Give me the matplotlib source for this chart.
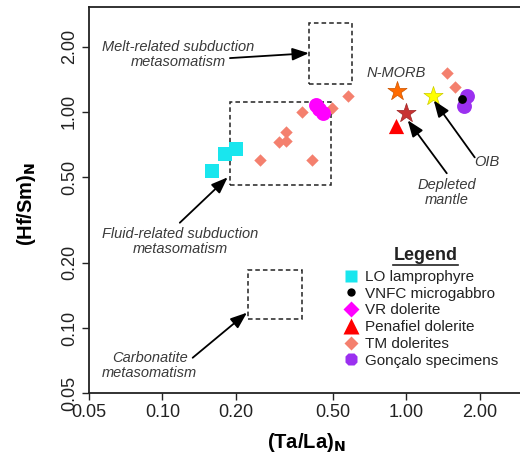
import matplotlib.pyplot as plt
from matplotlib.patches import Rectangle
from matplotlib.lines import Line2D

plt.rcParams['font.family'] = ['Liberation Sans', 'DejaVu Sans']

# data (Ta/La)N, (Hf/Sm)N
lo_x = [0.160, 0.181, 0.200]
lo_y = [0.532, 0.637, 0.673]
vnfc_x = [1.69]
vnfc_y = [1.15]
vr_x = [0.425, 0.440, 0.455]
vr_y = [1.08, 1.03, 0.99]
pen_x = [0.91]
pen_y = [0.86]
tm_x = [0.250, 0.301, 0.322, 0.322, 0.372, 0.412, 0.494, 0.575, 1.467, 1.582]
tm_y = [0.601, 0.726, 0.808, 0.734, 0.998, 0.601, 1.048, 1.186, 1.517, 1.300]
gon_x = [1.77, 1.72]
gon_y = [1.19, 1.06]

# reference compositions
nmorb = (0.915, 1.25)
dm = (1.0, 0.99)
oib = (1.29, 1.18)

# metasomatism fields (x0, x1, y0, y1)
melt_box = (0.40, 0.60, 1.34, 2.59)
fluid_box = (0.19, 0.49, 0.46, 1.11)
carb_box = (0.225, 0.372, 0.110, 0.186)

xticks = [0.05, 0.1, 0.2, 0.5, 1.0, 2.0]
yticks = [0.05, 0.1, 0.2, 0.5, 1.0, 2.0]

fig = plt.figure(figsize=(5.2, 4.63), dpi=100)
ax = fig.add_axes([89 / 520, 70 / 463, 488 / 520, 386 / 463])
ax.set_xscale('log')
ax.set_yscale('log')
ax.set_xlim(0.05, 5.0)
ax.set_ylim(0.05, 3.06)

for b in (melt_box, fluid_box, carb_box):
    ax.add_patch(Rectangle((b[0], b[2]), b[1] - b[0], b[3] - b[2], fill=False,
                           ls=(0, (3, 2)), lw=1.1, ec='#222222'))

ax.scatter(tm_x, tm_y, marker='D', s=40, c='#F4806E', lw=0, zorder=3)
ax.scatter(lo_x, lo_y, marker='s', s=95, c='#19E6EE', lw=0, zorder=3)
ax.scatter(vr_x, vr_y, marker='o', s=115, c='#FF00FF', lw=0, zorder=3)
ax.scatter(gon_x, gon_y, marker='o', s=115, c='#9B30F0', lw=0, zorder=3)
ax.scatter(vnfc_x, vnfc_y, marker='o', s=40, c='black', lw=0, zorder=4)
ax.scatter(pen_x, pen_y, marker='^', s=120, c='#FF0000', lw=0, zorder=3)
ax.scatter(*nmorb, marker='*', s=210, c='#FF6A00', lw=0.5, ec='#CC5500', zorder=3)
ax.scatter(*dm, marker='*', s=210, c='#C83232', lw=0.5, ec='#9E2626', zorder=3)
ax.scatter(*oib, marker='*', s=210, c='#FFFF00', lw=0.5, ec='#CCCC00', zorder=3)

tc = '#3a3a3a'
tkw = dict(fontsize=10.5, style='italic', color=tc, ha='center', va='center', linespacing=1.1)
akw = dict(arrowstyle='-|>,head_length=1.0,head_width=0.38', color='black', lw=1.3,
           shrinkA=0, shrinkB=0)

ax.text(0.1156, 1.85, 'Melt-related subduction\nmetasomatism', **tkw)
ax.annotate('', xy=(0.398, 1.87), xytext=(0.189, 1.775), arrowprops=akw)
ax.text(0.118, 0.251, 'Fluid-related subduction\nmetasomatism', **tkw)
ax.annotate('', xy=(0.185, 0.498), xytext=(0.1178, 0.307), arrowprops=akw)
ax.text(0.0887, 0.0668, 'Carbonatite\nmetasomatism', **tkw)
ax.annotate('', xy=(0.222, 0.1177), xytext=(0.133, 0.0728), arrowprops=akw)
ax.text(0.912, 1.51, 'N-MORB', **tkw)
ax.text(1.463, 0.424, 'Depleted\nmantle', **tkw)
ax.annotate('', xy=(1.012, 0.915), xytext=(1.463, 0.52), arrowprops=akw)
ax.text(2.134, 0.584, 'OIB', **tkw)
ax.annotate('', xy=(1.294, 1.13), xytext=(1.905, 0.616), arrowprops=akw)

ax.set_xticks(xticks)
ax.set_xticklabels(['%.2f' % t for t in xticks])
ax.set_yticks(yticks)
ax.set_yticklabels(['%.2f' % t for t in yticks], rotation=90, va='center')
ax.minorticks_off()
ax.tick_params(direction='out', length=5, width=1, labelsize=13, pad=3, colors='#222222')
for s in ax.spines.values():
    s.set_linewidth(1.3)
    s.set_color('#222222')

ax.set_xlabel(r'(Ta/La)$_\mathbf{N}$', fontsize=14.5, fontweight='bold')
ax.xaxis.set_label_coords(0.446, -0.098)
ax.set_ylabel(r'(Hf/Sm)$_\mathbf{N}$', fontsize=14.5, fontweight='bold')
ax.yaxis.set_label_coords(-0.105, 0.49)

# legend
handles = [
    Line2D([], [], ls='', marker='s', ms=9, mfc='#19E6EE', mec='none'),
    Line2D([], [], ls='', marker='o', ms=6, mfc='black', mec='none'),
    Line2D([], [], ls='', marker='D', ms=8, mfc='#FF00FF', mec='none'),
    Line2D([], [], ls='', marker='^', ms=11, mfc='#FF0000', mec='none'),
    Line2D([], [], ls='', marker='D', ms=7, mfc='#F4806E', mec='none'),
    Line2D([], [], ls='', marker='8', ms=10, mfc='#9B30F0', mec='none'),
]
labels = ['LO lamprophyre', 'VNFC microgabbro', 'VR dolerite', 'Penafiel dolerite',
          'TM dolerites', 'Gonçalo specimens']
fig.legend(handles, labels, loc='upper left', bbox_to_anchor=(343 / 520, 1 - 270 / 463),
           frameon=False, fontsize=11, handlelength=1.0, handletextpad=0.45,
           labelspacing=0.18, borderpad=0, borderaxespad=0, labelcolor='#222222')
fig.text(425.5 / 520, 1 - 256 / 463, 'Legend', fontsize=13, fontweight='bold',
         ha='center', va='center', color='#222222')
fig.add_artist(Line2D([393 / 520, 458 / 520], [1 - 264.5 / 463] * 2, color='#222222', lw=1.2))

fig.savefig('out.png', dpi=100)
